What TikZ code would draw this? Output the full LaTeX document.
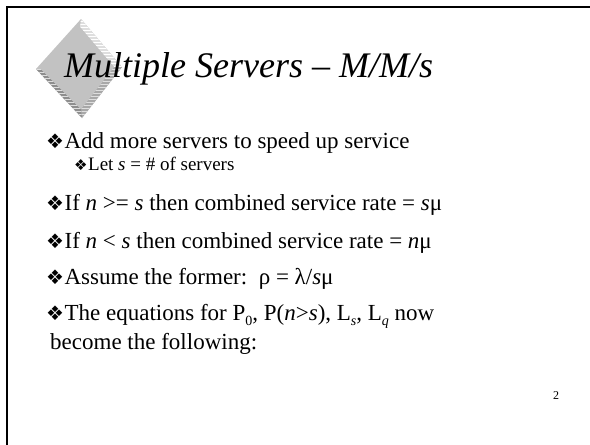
\documentclass[tikz,border=0pt]{standalone}
\usepackage{fontspec}
\setmainfont{Liberation Serif}
\newfontfamily\dejavu{DejaVu Sans}
\newcommand\bulA{{\dejavu\fontsize{20}{20}\selectfont\raisebox{-0.5pt}{❖}}\kern0.5pt}
\newcommand\bulB{{\dejavu\fontsize{15}{15}\selectfont\raisebox{-0.5pt}{❖}}\kern0.5pt}
\newcommand\lowsub[1]{\raisebox{-0.25em}{\fontsize{14}{14}\selectfont #1}}
\definecolor{faceg}{HTML}{C2C2C2}
\definecolor{lightg}{HTML}{DEDEDE}
\definecolor{darkg}{HTML}{8E8E8E}
\definecolor{midg}{HTML}{A8A8A8}
\tikzset{
  lvlA/.style={anchor=base west, inner sep=0pt, font=\fontsize{23}{27}\selectfont},
  lvlB/.style={anchor=base west, inner sep=0pt, font=\fontsize{19}{23}\selectfont},
  titletext/.style={anchor=base west, inner sep=0pt, font=\fontsize{36}{40}\selectfont\itshape},
  stripe/.style={line width=0.9pt}
}
\begin{document}
\begin{tikzpicture}[x=1pt,y=-1pt]
\useasboundingbox (0,0) rectangle (590,445);
\fill[white] (0,0) rectangle (590,445);
% frame
\draw[line width=2.5pt] (7,446) -- (7,7) -- (591,7);
% diamond
\coordinate (dT) at (81,19);
\coordinate (dR) at (122,67);
\coordinate (dB) at (82,118);
\coordinate (dL) at (36,69);
\coordinate (iT) at (80,27);
\coordinate (iR) at (114,67);
\coordinate (iB) at (81,109);
\coordinate (iL) at (41,69);
\fill[faceg] (dT) -- (dR) -- (dB) -- (dL) -- cycle;
\begin{scope}
  \clip (dT) -- (dR) -- (iR) -- (iT) -- cycle;
  \fill[lightg] (30,15) rectangle (130,125);
  \foreach \yy in {18,21,...,120} \draw[stripe,white] (30,\yy) -- (130,\yy);
\end{scope}
\begin{scope}
  \clip (dR) -- (dB) -- (iB) -- (iR) -- cycle;
  \fill[midg] (30,15) rectangle (130,125);
  \foreach \yy in {18,21,...,120} \draw[stripe,lightg] (30,\yy) -- (130,\yy);
\end{scope}
\begin{scope}
  \clip (dL) -- (dB) -- (iB) -- (iL) -- cycle;
  \fill[darkg] (30,15) rectangle (130,125);
  \foreach \yy in {18,21,...,120} \draw[stripe,lightg] (30,\yy) -- (130,\yy);
\end{scope}
\fill[faceg] (iT) -- (iR) -- (iB) -- (iL) -- cycle;
% title
\node[titletext] (title) at (64,77) {Multiple Servers – M/M/s};
% bullets
\node[lvlA] (b1) at (46,148) {\bulA Add more servers to speed up service};
\node[lvlB] (b2) at (74,170) {\bulB Let \textit{s} = \# of servers};
\node[lvlA] (b3) at (46,210) {\bulA If \textit{n} >= \textit{s} then combined service rate = \textit{s}μ};
\node[lvlA] (b4) at (46,248) {\bulA If \textit{n} < \textit{s} then combined service rate = \textit{n}μ};
\node[lvlA] (b5) at (46,284) {\bulA Assume the former:\ \ ρ = λ/\textit{s}μ};
\node[lvlA] (b6) at (46,320) {\bulA The equations for P\lowsub{0}, P(\textit{n}>\textit{s}), L\lowsub{\textit{s}}, L\lowsub{\textit{q}} now};
\node[lvlA] (b7) at (50,349) {become the following:};
\node[anchor=base west, inner sep=0pt, font=\fontsize{12}{12}\selectfont] (pg) at (553,399) {2};
\end{tikzpicture}
\end{document}
